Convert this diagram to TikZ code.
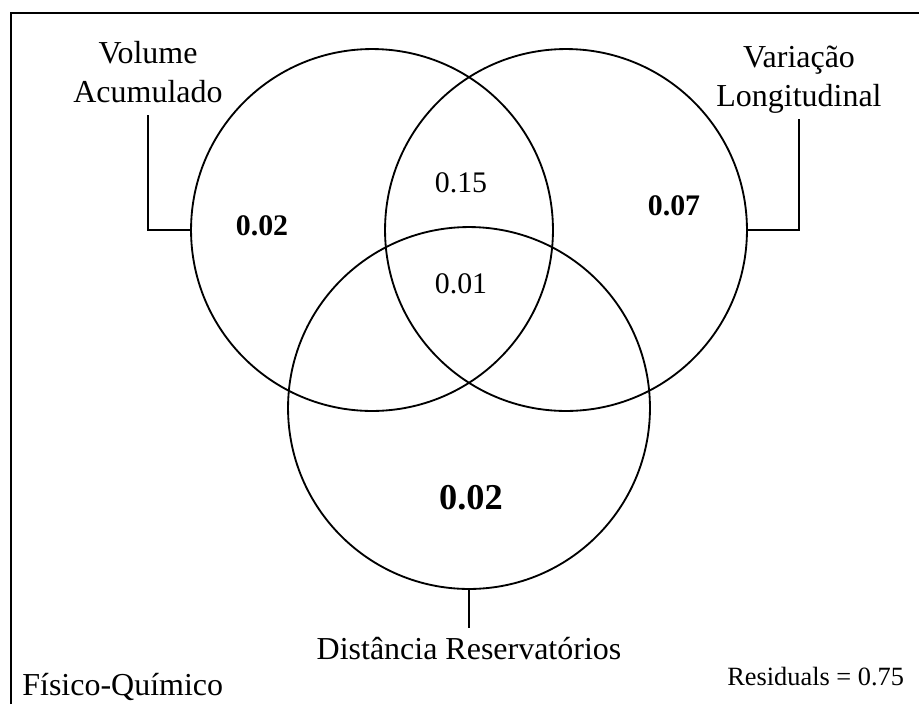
\documentclass[tikz,border=0pt]{standalone}
\usepackage{fontspec}
\setmainfont{Liberation Serif}
\usepackage{tikz}
\tikzset{
  set/.style={circle, draw, line width=1.05pt, minimum size=7.24cm, inner sep=0pt},
  lab/.style={align=center, font=\fontsize{18.2}{22.1}\selectfont},
  val/.style={font=\fontsize{17}{20}\selectfont, inner sep=0pt, anchor=base},
  link/.style={line width=1.05pt}
}

\begin{document}
\begin{tikzpicture}[x=0.02cm, y=-0.02cm]
        \useasboundingbox (0,0) rectangle (919,704);
        % Frame
        \draw[line width=1.3pt] (11,704) -- (11,13) -- (919,13);
        % Sets
        \node[set] (vol) at (372,230) {};
        \node[set] (var) at (566,230) {};
        \node[set] (dist) at (469,408) {};
        % Set names
        \node[lab, anchor=base, inner ysep=7pt] (vollab) at (148,102) {Volume\\Acumulado};
        \node[lab, anchor=base, inner ysep=3pt] (varlab) at (799,106) {Variação\\Longitudinal};
        \node[lab, anchor=base, inner ysep=5pt] (distlab) at (469,659) {Distância Reservatórios};
        \draw[link] (vol.west) -| (vollab.south);
        \draw[link] (var.east) -| (varlab.south);
        \draw[link] (dist.south) -- (distlab.north);
        % Fractions
        \node[val] (vonly) at (262,235) {\bfseries 0.02};
        \node[val] (vonlyr) at (674,215) {\bfseries 0.07};
        \node[val] (both) at (461,192) {0.15};
        \node[val] (all) at (461,293) {0.01};
        \node[val, font=\fontsize{20.7}{24}\selectfont] (donly) at (471,509) {\bfseries 0.02};
        % Corner texts
        \node[inner sep=0pt, anchor=base west, font=\fontsize{18.2}{22}\selectfont] (group) at (22,695) {Físico-Químico};
        \node[inner sep=0pt, anchor=base west, font=\fontsize{15}{18}\selectfont] (resid) at (727,685) {Residuals = 0.75};
      \end{tikzpicture}
\end{document}
